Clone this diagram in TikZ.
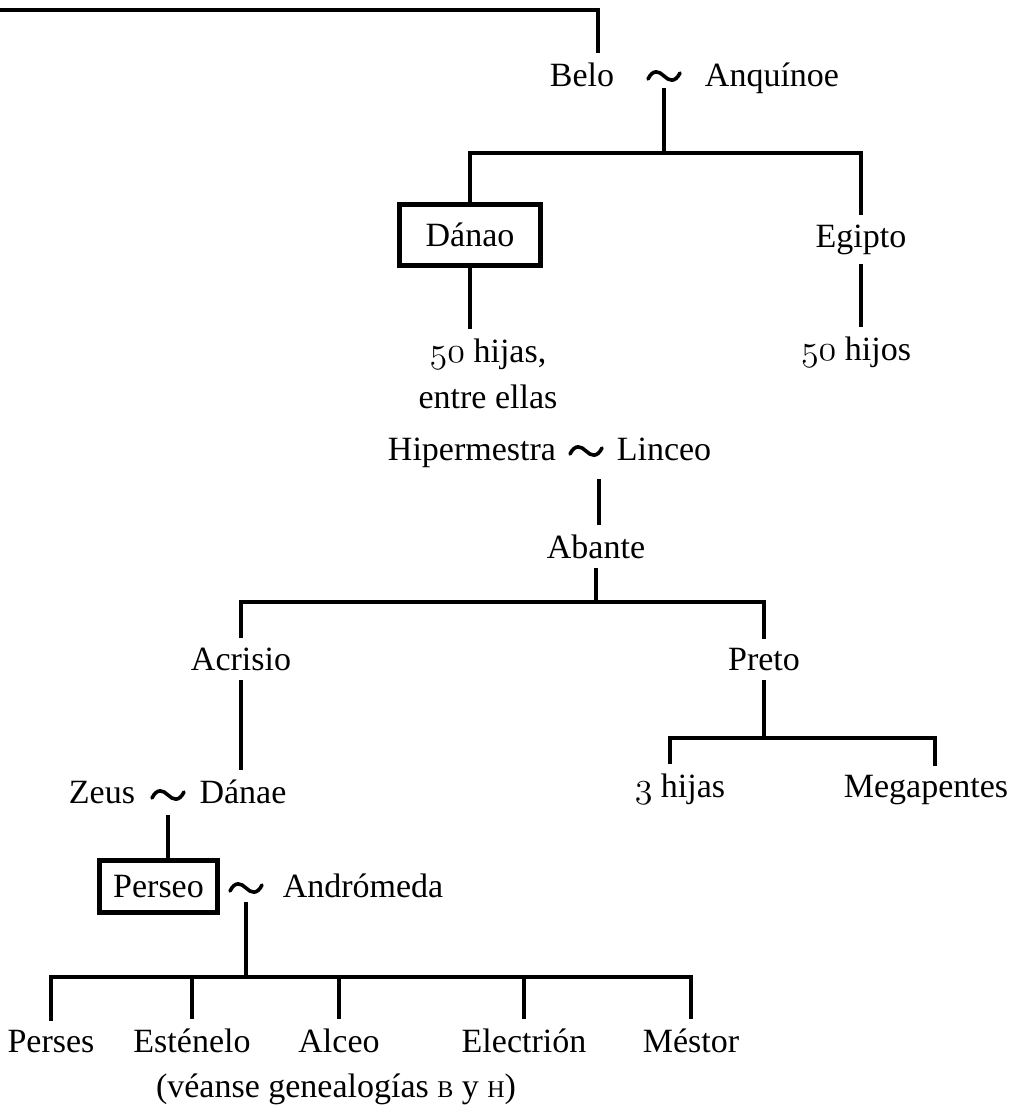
\documentclass[tikz,border=0pt]{standalone}
\usepackage{fontspec}
\setmainfont{Liberation Serif}
% old-style figures taken from the Latin Modern math italic
\newcommand\onum[1]{\scalebox{1.45}{\fontencoding{OML}\fontfamily{lmm}\fontseries{m}\fontshape{it}\selectfont #1}}
% small capitals set by hand
\newcommand\ssc[1]{{\fontsize{24}{28}\selectfont #1}}

\begin{document}
\begin{tikzpicture}[x=1pt,y=-1pt,
  lbl/.style={inner xsep=0pt, inner ysep=9pt, anchor=base, font=\fontsize{34}{40}\selectfont},
  link/.style={line width=4.4pt},
  person/.style={draw, line width=5.5pt, inner sep=0pt, font=\fontsize{34}{40}\selectfont},
  % marriage sign
  couple/.pic={\draw[line width=3.6pt, line cap=round]
      (-16,3) .. controls (-11,-7) and (-5,-5) .. (0,0)
              .. controls (5,5) and (11,7) .. (16,-3);}]
\useasboundingbox (0,0) rectangle (1022,1112);

% Belo ~ Anquinoe
\coordinate (line-in) at (0,10);
\node[lbl] (belo) at (582,86) {Belo};
\coordinate (t1) at (664,76);
\pic at (t1) {couple};
\node[lbl] (anquinoe) at (772,86) {Anquínoe};
\draw[link] (line-in) -| ([xshift=16pt]belo.north);

% their sons
\coordinate (bar1) at (0,153);
\node[person, minimum width=141pt, minimum height=61pt] (danao) at (470,235) {Dánao};
\node[lbl] (egipto) at (861,247) {Egipto};
\draw[link] (t1) ++(0,12) -- (t1 |- bar1);
\draw[link] (danao.north) |- (egipto.north |- bar1) -- (egipto.north);

% Danao's daughters and Egipto's sons
\node[lbl] (hijas) at (488,362) {\onum{50} hijas,};
\node[lbl] (entre) at (488,408) {entre ellas};
\node[lbl] (hijos) at (856,360) {\onum{50} hijos};
\draw[link] (danao.south) -- (danao.south |- hijas.north);
\draw[link] (egipto.south) -- (egipto.south |- hijos.north);

% Hipermestra ~ Linceo
\node[lbl] (hipermestra) at (472,460) {Hipermestra};
\coordinate (t2) at (586,451);
\pic at (t2) {couple};
\node[lbl] (linceo) at (664,460) {Linceo};
\node[lbl] (abante) at (596,558) {Abante};
\draw[link] (t2) ++(13,28) coordinate (t2-down) -- (t2-down |- abante.north);

% Abante's sons
\coordinate (bar2) at (0,602);
\node[lbl] (acrisio) at (241,670) {Acrisio};
\node[lbl] (preto) at (764,670) {Preto};
\draw[link] (abante.south) -- (abante.south |- bar2);
\draw[link] (acrisio.north) |- (preto.north |- bar2) -- (preto.north);

% Preto's children
\coordinate (bar3) at (0,738);
\coordinate (c3l) at (670,0);
\coordinate (c3r) at (935,0);
\node[lbl] (tres) at (680,797) {\onum{3} hijas};
\node[lbl] (megapentes) at (926,797) {Megapentes};
\draw[link] (preto.south) -- (preto.south |- bar3);
\draw[link] (c3l |- tres.north) |- (c3r |- bar3) -- (c3r |- megapentes.north);

% Zeus ~ Danae
\node[lbl] (zeus) at (102,803) {Zeus};
\coordinate (t3) at (168,795);
\pic at (t3) {couple};
\node[lbl] (danae) at (243,803) {Dánae};
\draw[link] (acrisio.south) -- (acrisio.south |- danae.north);

% Perseo ~ Andromeda
\node[person, minimum width=118pt, minimum height=52pt] (perseo) at (158.5,886.5) {Perseo};
\draw[link] (t3) ++(0,20) -- (t3 |- perseo.north);
\coordinate (t4) at (246,888);
\pic at (t4) {couple};
\node[lbl] (andromeda) at (363,897) {Andrómeda};

% their sons
\coordinate (bar4) at (0,977);
\node[lbl] (perses) at (51,1052) {Perses};
\node[lbl] (estenelo) at (192,1052) {Esténelo};
\node[lbl] (alceo) at (339,1052) {Alceo};
\node[lbl] (electrion) at (524,1052) {Electrión};
\node[lbl] (mestor) at (691,1052) {Méstor};
\draw[link] (t4) ++(0,14) -- (t4 |- bar4);
\draw[link] (perses.north) |- (mestor.north |- bar4) -- (mestor.north);
\foreach \n in {estenelo, alceo, electrion}
  \draw[link] (\n.north) -- (\n.north |- bar4);
\node[lbl] (note) at (336,1097) {(véanse genealogías \ssc{B} y \ssc{H})};
\end{tikzpicture}
\end{document}
